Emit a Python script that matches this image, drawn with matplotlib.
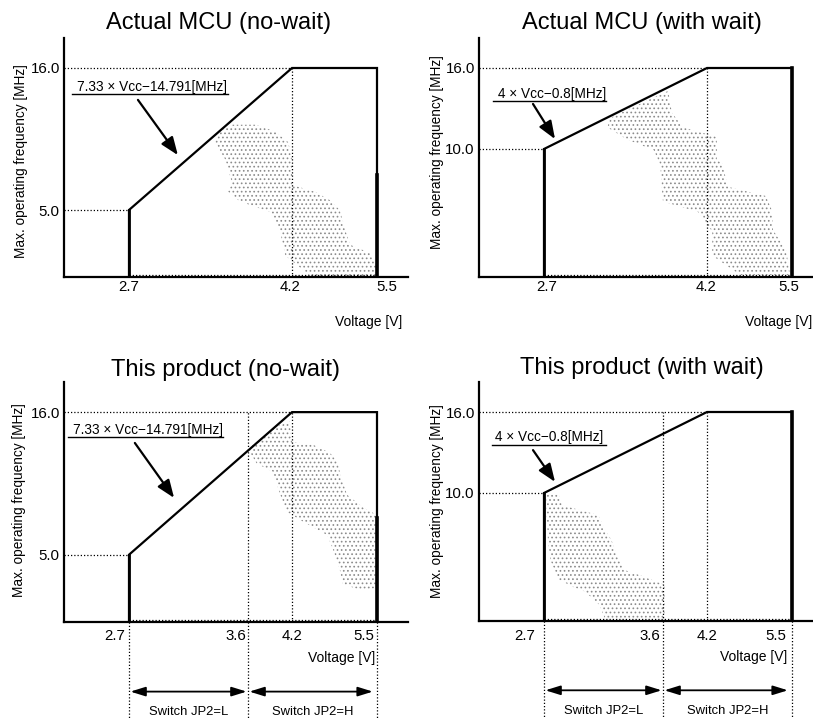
import numpy as np
import matplotlib
matplotlib.use("Agg")
import matplotlib.pyplot as plt
import matplotlib.transforms as mtransforms
from matplotlib.patches import Polygon

plt.rcParams['font.family'] = ['Liberation Sans', 'DejaVu Sans']
plt.rcParams['hatch.linewidth'] = 0.7

# ---------------- data ----------------
titles = ["Actual MCU (no-wait)", "Actual MCU (with wait)",
          "This product (no-wait)", "This product (with wait)"]
v_low, v_switch, v_knee, v_high = 2.7, 3.6, 4.2, 5.5
f_max = 16.0
f_min_nowait = 5.0
f_min_wait = 10.0
formula_nowait = "7.33 × Vcc−14.791[MHz]"
formula_wait = "4 × Vcc−0.8[MHz]"
xticks_top = [2.7, 4.2, 5.5]
xticks_bottom = [2.7, 3.6, 4.2, 5.5]
switch_labels = ["Switch JP2=L", "Switch JP2=H"]
ylabel = "Max. operating frequency [MHz]"
xlabel = "Voltage [V]"

# stipple (dotted shading) regions, in (V, MHz)
stip_tl_v = [3.48, 3.70, 3.97, 4.15, 4.20, 4.20, 4.55, 4.78, 4.93, 5.04, 5.09, 5.39, 5.49, 5.49,
             4.48, 4.11, 4.04, 3.90, 3.54, 3.45, 3.48, 3.43, 3.35, 3.39]
stip_tl_f = [11.8, 11.8, 11.3, 10.5, 9.1, 7.05, 6.5, 5.8, 5.0, 3.1, 2.4, 1.8, 1.1, 0.07,
             0.07, 1.6, 3.3, 4.85, 5.7, 6.5, 7.2, 9.1, 10.5, 11.3]
stip_tr_v = [3.59, 3.67, 3.72, 3.87, 4.35, 4.35, 4.43, 4.52, 5.10, 5.19, 5.21, 5.41, 5.47, 4.71,
             4.28, 4.28, 4.08, 3.60, 3.59, 3.58, 3.53, 3.33, 3.18, 3.20]
stip_tr_f = [14.1, 14.3, 12.7, 11.6, 10.9, 9.1, 8.85, 6.9, 6.15, 5.0, 3.5, 2.0, 0.15, 0.15,
             1.6, 3.4, 4.85, 5.7, 6.9, 8.7, 9.9, 10.7, 11.6, 12.3]
stip_bl_v = [3.97, 4.17, 4.20, 4.52, 4.78, 4.90, 4.93, 5.04, 5.29, 5.48, 5.48, 5.24, 4.98, 4.93,
             4.83, 4.74, 4.37, 4.13, 4.04, 3.94, 3.72, 3.63, 3.66]
stip_bl_f = [14.9, 15.3, 13.8, 13.6, 13.0, 12.3, 11.6, 9.9, 8.85, 8.3, 2.5, 2.4, 2.8, 3.9,
             5.4, 6.6, 7.7, 8.5, 9.9, 11.6, 12.2, 13.0, 13.6]
stip_br_v = [2.72, 2.81, 2.84, 2.97, 3.11, 3.16, 3.21, 3.26, 3.31, 3.43, 3.62, 3.62, 3.16, 3.12,
             3.01, 2.93, 2.81, 2.75, 2.73, 2.72]
stip_br_f = [9.9, 9.9, 9.0, 8.6, 8.2, 7.0, 6.15, 4.7, 3.8, 3.4, 2.7, 0.2, 0.2, 1.2,
             2.2, 2.5, 3.1, 4.5, 6.15, 8.2]

# schematic (piecewise) axis scales
XK_V = [2.0, 2.7, 3.6, 4.2, 5.5, 6.0]
XK_P = [0, 65, 184, 228, 313, 344]
YK_V = [0.0, 5.0, 10.0, 16.0, 18.3]
YK_P = [0, 67, 128, 209, 239]

W, H = 813, 719
fig = plt.figure(figsize=(W / 100, H / 100), dpi=100)


def fx(p):
    return p / W


def fy(p):
    return 1 - p / H


DOT = dict(color='black', lw=0.9, linestyle=(0, (1, 1.6)))


def panel(i, rect, f_min, ticks, tick_dx, tick_ha, tick_dy, formula,
          txt_xy, ul, tail, tip, stip_v, stip_f, ylab_xy, xlab_xy,
          title_xy, thick_from=None, switch=False):
    l, b, w, h = rect
    ax = fig.add_axes([fx(l), 1 - b / H, w / W, h / H])
    ax.set_xscale('function', functions=(lambda v: np.interp(v, XK_V, XK_P),
                                         lambda p: np.interp(p, XK_P, XK_V)))
    ax.set_yscale('function', functions=(lambda v: np.interp(v, YK_V, YK_P),
                                         lambda p: np.interp(p, YK_P, YK_V)))
    ax.set_xlim(XK_V[0], XK_V[-1])
    ax.set_ylim(YK_V[0], YK_V[-1])
    for s in ['top', 'right']:
        ax.spines[s].set_visible(False)
    for s in ['left', 'bottom']:
        ax.spines[s].set_linewidth(1.6)
        ax.spines[s].set_zorder(5)
    ax.set_xticks([])
    ax.set_yticks([f_min, f_max])
    ax.set_yticklabels([f"{f_min:.1f}", f"{f_max:.1f}"], fontsize=10.8)
    ax.tick_params(axis='y', length=0, pad=3)
    ax.tick_params(axis='x', which='both', length=0)
    ax.yaxis.set_minor_locator(matplotlib.ticker.NullLocator())
    ax.xaxis.set_minor_locator(matplotlib.ticker.NullLocator())

    bt = mtransforms.blended_transform_factory(ax.transData, ax.transAxes)

    # stipple
    poly = Polygon(np.column_stack([stip_v, stip_f]), closed=True, facecolor='none',
                   edgecolor='#8c8c8c', linewidth=0, hatch='....', zorder=1)
    ax.add_patch(poly)

    # dotted guides
    ax.plot([XK_V[0], v_knee], [f_max, f_max], **DOT, zorder=2)
    ax.plot([XK_V[0], v_low], [f_min, f_min], **DOT, zorder=2)
    ax.plot([v_knee, v_knee], [0, f_max], **DOT, zorder=2)
    ax.plot([v_low, v_high], [0.12, 0.12], **DOT, zorder=2)

    # outline
    ax.plot([v_low, v_low, v_knee, v_high, v_high], [0, f_min, f_max, f_max, 0],
            color='black', lw=1.6, solid_joinstyle='miter', zorder=4)
    if thick_from is not None:
        ax.plot([v_high, v_high], [0, thick_from], color='black', lw=2.6, zorder=4)
    ax.plot([v_low, v_low], [0, f_min], color='black', lw=2.0, zorder=4)

    # tick labels
    for v, dx, ha in zip(ticks, tick_dx, tick_ha):
        ax.annotate(f"{v:.1f}", xy=(v, 0), xycoords=bt, xytext=(dx, -tick_dy),
                    textcoords='offset pixels', ha=ha, va='center', fontsize=10.8,
                    annotation_clip=False)

    if switch:
        ax.plot([v_switch, v_switch], [0, f_max], **DOT, zorder=2)
        for v in [v_low, v_switch, v_high]:
            ax.plot([v, v], [0, -0.42], transform=bt, clip_on=False, **DOT)
        ya = -0.29
        ax.annotate('', xy=(v_low, ya), xycoords=bt, xytext=(v_switch, ya), textcoords=bt,
                    arrowprops=dict(arrowstyle='<|-|>,head_length=0.9,head_width=0.28',
                                    color='black', lw=1.3, shrinkA=1, shrinkB=1,
                                    mutation_scale=10), annotation_clip=False)
        ax.annotate('', xy=(v_switch, ya), xycoords=bt, xytext=(v_high, ya), textcoords=bt,
                    arrowprops=dict(arrowstyle='<|-|>,head_length=0.9,head_width=0.28',
                                    color='black', lw=1.3, shrinkA=3, shrinkB=1,
                                    mutation_scale=10), annotation_clip=False)
        mids = [np.interp((np.interp(v_low, XK_V, XK_P) + np.interp(v_switch, XK_V, XK_P)) / 2, XK_P, XK_V),
                np.interp((np.interp(v_switch, XK_V, XK_P) + np.interp(v_high, XK_V, XK_P)) / 2, XK_P, XK_V)]
        for m, lab in zip(mids, switch_labels):
            ax.text(m, -0.375, lab, transform=bt, ha='center', va='center', fontsize=9.4,
                    clip_on=False)

    # formula annotation
    ax.text(txt_xy[0], txt_xy[1], formula, transform=ax.transAxes, ha='center',
            va='center', fontsize=9.8)
    ax.plot([ul[0], ul[1]], [ul[2], ul[2]], transform=ax.transAxes, color='black', lw=1.0)
    ax.annotate('', xy=tip, xycoords='axes fraction', xytext=tail, textcoords='axes fraction',
                arrowprops=dict(arrowstyle='-|>,head_length=0.9,head_width=0.35',
                                color='black', lw=1.6, shrinkA=0, shrinkB=0,
                                mutation_scale=12))

    ax.text(ylab_xy[0], ylab_xy[1], ylabel, transform=ax.transAxes, rotation=90,
            ha='center', va='center', fontsize=9.8)
    ax.text(xlab_xy[0], xlab_xy[1], xlabel, transform=ax.transAxes, ha='right',
            va='center', fontsize=10, clip_on=False)
    fig.text(fx(title_xy[0]), fy(title_xy[1]), titles[i], ha='center', va='center',
             fontsize=17)
    return ax


# top-left
panel(0, (64, 277, 344, 239), f_min_nowait, xticks_top, [0, -2, 10], ['center'] * 3, 10,
      formula_nowait, (0.256, 0.797), (0.023, 0.477, 0.766), (0.215, 0.741), (0.331, 0.510),
      stip_tl_v, stip_tl_f, (-0.125, 0.485), (0.983, -0.188), (219, 23), thick_from=7.9)
# top-right
panel(1, (479, 277, 344, 239), f_min_wait, xticks_top, [3, -1, -3], ['center'] * 3, 10,
      formula_wait, (0.212, 0.764), (0.041, 0.369, 0.736), (0.157, 0.724), (0.221, 0.577),
      stip_tr_v, stip_tr_f, (-0.122, 0.523), (0.968, -0.188), (642, 23), thick_from=16)
# bottom-left
panel(2, (64, 622, 344, 240), f_min_nowait, xticks_bottom, [-4, -2, 0, -3],
      ['right', 'right', 'center', 'right'], 14,
      formula_nowait, (0.244, 0.798), (0.012, 0.462, 0.771), (0.206, 0.746), (0.320, 0.517),
      stip_bl_v, stip_bl_f, (-0.131, 0.51), (0.904, -0.15), (225, 370), thick_from=8.0,
      switch=True)
# bottom-right
panel(3, (479, 621, 344, 239), f_min_wait, xticks_bottom, [-9, -3, 0, -6],
      ['right', 'right', 'center', 'right'], 15,
      formula_wait, (0.203, 0.768), (0.038, 0.369, 0.736), (0.157, 0.715), (0.221, 0.582),
      stip_br_v, stip_br_f, (-0.122, 0.50), (0.895, -0.15), (642, 368), thick_from=16,
      switch=True)

fig.savefig("out.png", dpi=100)
